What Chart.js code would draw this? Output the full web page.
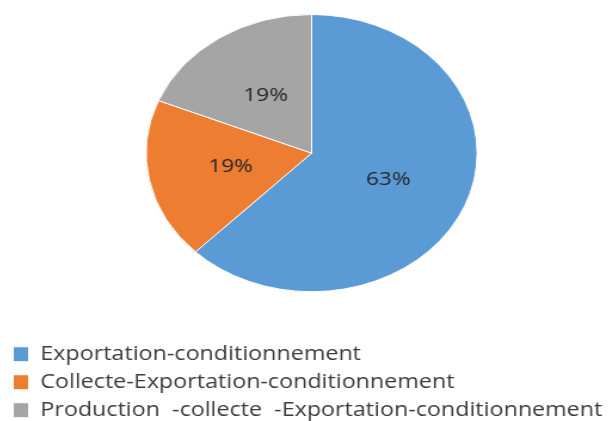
<!DOCTYPE html>
<html>
<head>
<meta charset="utf-8">
<script src="https://cdn.jsdelivr.net/npm/chart.js@4/dist/chart.umd.min.js"></script>
<style>
    html, body { margin: 0; padding: 0; background: #fff; overflow: hidden; }
    /* The source picture is stretched sideways, pie and text alike */
    #chart-container {
        position: absolute; left: 2.5px; top: 0;
        width: 517px; height: 430px;
        transform: scaleX(1.194); transform-origin: 0 0;
    }
</style>
</head>
<body>
<div id="chart-container"><canvas id="chart"></canvas></div>
<script>
// Chart data
const categories = [
    'Exportation-conditionnement',
    'Collecte-Exportation-conditionnement',
    'Production  -collecte  -Exportation-conditionnement'
];
const shares = [63, 19, 19];
const sliceLabels = ['63%', '19%', '19%'];
const colors = ['#5B9BD5', '#ED7D31', '#A5A5A5'];

// Percent labels in the middle of each slice
const sliceLabelPlugin = {
    id: 'sliceLabels',
    afterDatasetsDraw(chart) {
        const ctx = chart.ctx;
        const meta = chart.getDatasetMeta(0);
        ctx.save();
        ctx.font = '19px "Open Sans"';
        ctx.fillStyle = '#262626';
        ctx.textAlign = 'center';
        ctx.textBaseline = 'middle';
        meta.data.forEach((arc, i) => {
            const pos = arc.tooltipPosition();
            ctx.fillText(sliceLabels[i], pos.x, pos.y);
        });
        ctx.restore();
    }
};

new Chart(document.getElementById('chart'), {
    type: 'pie',
    data: {
        labels: categories,
        datasets: [{
            data: shares,
            backgroundColor: colors,
            borderColor: '#ffffff',
            borderWidth: 1
        }]
    },
    options: {
        responsive: true,
        maintainAspectRatio: false,
        animation: false,
        layout: {
            padding: { top: 14, bottom: 0, left: 0, right: 0 }
        },
        plugins: {
            tooltip: { enabled: false },
            legend: {
                position: 'bottom',
                align: 'start',
                // empty title only adds the gap between pie and legend
                title: {
                    display: true,
                    text: '',
                    font: { size: 12 },
                    padding: { top: 29.35, bottom: 0 }
                },
                labels: {
                    boxWidth: 13,
                    boxHeight: 15,
                    padding: 8.5,
                    color: '#3a3a3a',
                    font: { family: '"Open Sans"', size: 19.5 }
                }
            }
        }
    },
    plugins: [sliceLabelPlugin]
});
</script>
</body>
</html>
